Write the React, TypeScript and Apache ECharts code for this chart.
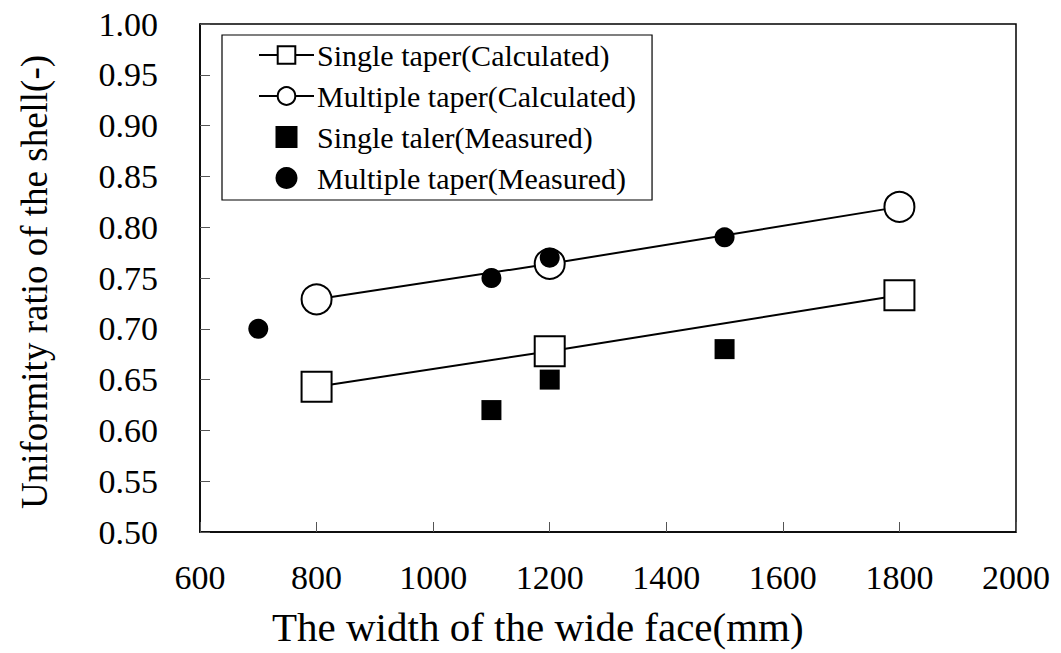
import React, { useEffect, useRef } from "react";
import * as echarts from "echarts";

const singleCalcX = [800, 1200, 1800];
const singleCalcY = [0.643, 0.678, 0.733];
const multiCalcX = [800, 1200, 1800];
const multiCalcY = [0.729, 0.764, 0.82];
const singleMeasX = [1100, 1200, 1500];
const singleMeasY = [0.62, 0.65, 0.68];
const multiMeasX = [700, 1100, 1200, 1500];
const multiMeasY = [0.7, 0.75, 0.77, 0.79];
const legendNames = [
  "Single taper(Calculated)",
  "Multiple taper(Calculated)",
  "Single taler(Measured)",
  "Multiple taper(Measured)",
];
const xTitle = "The width of the wide face(mm)";
const yTitle = "Uniformity ratio of the shell(-)";

const zip = (xs: number[], ys: number[]) => xs.map((x, i) => [x, ys[i]]);

const FONT = "Liberation Serif";
const SQUARE = "path://M0,0L20,0L20,20L0,20Z";

export default function App() {
  const ref = useRef<HTMLDivElement>(null);
  useEffect(() => {
    if (!ref.current) return;
    const chart = echarts.init(ref.current, undefined, { renderer: "svg" });
    chart.setOption({
      animation: false,
      backgroundColor: "#fff",
      textStyle: { fontFamily: FONT, color: "#000" },
      grid: {
        left: 200,
        right: 45,
        top: 24,
        bottom: 121,
        show: true,
        borderColor: "#000",
        borderWidth: 1.5,
      },
      legend: {
        orient: "vertical",
        left: 222,
        top: 35,
        padding: [5, 16, 7, 36],
        itemGap: 11,
        itemWidth: 55,
        itemHeight: 22,
        borderColor: "#000",
        borderWidth: 1.2,
        textStyle: { fontFamily: FONT, fontSize: 30, color: "#000", padding: [0, 0, 0, -2] },
        data: [
          { name: legendNames[0] },
          { name: legendNames[1] },
          { name: legendNames[2], icon: SQUARE },
          { name: legendNames[3] },
        ],
      },
      graphic: [
        {
          type: "text",
          left: 272,
          top: 606,
          style: {
            text: xTitle,
            fontFamily: FONT,
            fontSize: 41,
            fill: "#000",
          },
        },
        {
          type: "text",
          x: 34,
          y: 282,
          rotation: Math.PI / 2,
          style: {
            text: yTitle,
            fontFamily: FONT,
            fontSize: 37,
            fill: "#000",
            align: "center",
            verticalAlign: "middle",
          },
        },
      ],
      xAxis: {
        type: "value",
        min: 600,
        max: 2000,
        interval: 200,
        axisLine: { show: true, lineStyle: { color: "#000", width: 1.5 } },
        axisTick: { show: true, inside: true, length: 10, lineStyle: { color: "#555", width: 1 } },
        axisLabel: {
          fontFamily: FONT,
          fontSize: 34,
          color: "#000",
          margin: 28,
          formatter: (v: number) => String(v),
        },
        splitLine: { show: false },
      },
      yAxis: {
        type: "value",
        min: 0.5,
        max: 1.0,
        interval: 0.05,
        axisLine: { show: true, lineStyle: { color: "#000", width: 1.5 } },
        axisTick: { show: true, inside: true, length: 10, lineStyle: { color: "#555", width: 1 } },
        axisLabel: {
          fontFamily: FONT,
          fontSize: 34,
          color: "#000",
          margin: 42,
          formatter: (v: number) => v.toFixed(2),
        },
        splitLine: { show: false },
      },
      series: [
        {
          name: legendNames[0],
          type: "line",
          data: zip(singleCalcX, singleCalcY),
          symbol: "rect",
          symbolSize: 30,
          lineStyle: { color: "#000", width: 2 },
          itemStyle: { color: "#fff", borderColor: "#000", borderWidth: 2, opacity: 1 },
          z: 2,
        },
        {
          name: legendNames[1],
          type: "line",
          data: zip(multiCalcX, multiCalcY),
          symbol: "circle",
          symbolSize: 30,
          lineStyle: { color: "#000", width: 2 },
          itemStyle: { color: "#fff", borderColor: "#000", borderWidth: 2, opacity: 1 },
          z: 2,
        },
        {
          name: legendNames[2],
          type: "scatter",
          data: zip(singleMeasX, singleMeasY),
          symbol: "rect",
          symbolSize: 20,
          itemStyle: { color: "#000", opacity: 1 },
          z: 3,
        },
        {
          name: legendNames[3],
          type: "scatter",
          data: zip(multiMeasX, multiMeasY),
          symbol: "circle",
          symbolSize: 20,
          itemStyle: { color: "#000", opacity: 1 },
          z: 3,
        },
      ],
    });
    return () => chart.dispose();
  }, []);
  return <div ref={ref} style={{ width: 1061, height: 653, position: "absolute", left: 0, top: 0 }} />;
}
